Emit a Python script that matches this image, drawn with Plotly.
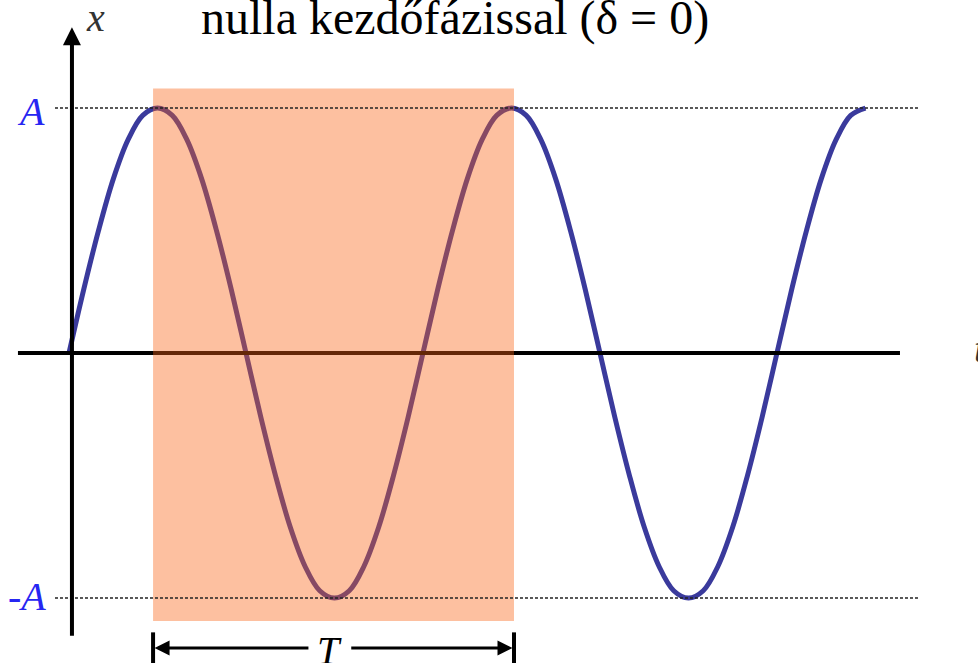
import plotly.graph_objects as go

# time in 24ths of a period, displacement in units of A
t_pts = list(range(0, 55))
x_pts = [0, 0.26, 0.5, 0.71, 0.87, 0.97, 1, 0.97, 0.87, 0.71, 0.5, 0.26,
         0, -0.26, -0.5, -0.71, -0.87, -0.97, -1, -0.97, -0.87, -0.71, -0.5, -0.26,
         0, 0.26, 0.5, 0.71, 0.87, 0.97, 1, 0.97, 0.87, 0.71, 0.5, 0.26,
         0, -0.26, -0.5, -0.71, -0.87, -0.97, -1, -0.97, -0.87, -0.71, -0.5, -0.26,
         0, 0.26, 0.5, 0.71, 0.87, 0.97, 1]

period_start = 5.7
period_end = 30.17
amp_labels = ["A", "-A"]
amp_values = [1, -1]
title_text = "nulla kezdőfázissal (δ = 0)"

SERIF = "Liberation Serif"
BLUE_CURVE = "#3a3a9c"
BLUE_TEXT = "#2626f2"

fig = go.Figure()
fig.add_trace(go.Scatter(x=t_pts, y=x_pts, mode="lines",
                         line=dict(color=BLUE_CURVE, width=5, shape="spline", smoothing=1),
                         hoverinfo="skip", showlegend=False))

shapes = []
# horizontal t axis (under the highlighted period)
shapes.append(dict(type="line", xref="x", yref="y", x0=-3.46, x1=56.34, y0=0, y1=0,
                   line=dict(color="black", width=4), layer="above"))
# highlighted period
shapes.append(dict(type="rect", xref="x", yref="y", x0=period_start, x1=period_end,
                   y0=-1.094, y1=1.08, fillcolor="rgba(250,98,18,0.4)",
                   line=dict(width=0), layer="above"))
# dashed amplitude lines
for v in amp_values:
    shapes.append(dict(type="line", xref="x", yref="y", x0=-0.95, x1=57.7, y0=v, y1=v,
                       line=dict(color="#222", width=1.5, dash="3px,2px"), layer="above"))
# end bars of T
for xe in [period_start, period_end]:
    shapes.append(dict(type="line", xref="x", yref="y", x0=xe, x1=xe, y0=-1.14, y1=-1.265,
                       line=dict(color="black", width=4), layer="above"))

annotations = []
# vertical x axis with arrow
annotations.append(dict(x=0.2, y=1.33, ax=0.2, ay=-1.16, xref="x", yref="y", axref="x", ayref="y",
                        text="", showarrow=True, arrowhead=2, arrowsize=0.9, arrowwidth=4,
                        arrowcolor="black"))
# T arrows
mid = (period_start + period_end) / 2
annotations.append(dict(x=period_start + 0.1, y=-1.204, ax=mid - 1.6, ay=-1.204,
                        xref="x", yref="y", axref="x", ayref="y", text="", showarrow=True,
                        arrowhead=2, arrowsize=1, arrowwidth=3, arrowcolor="black"))
annotations.append(dict(x=period_end - 0.1, y=-1.204, ax=mid + 1.1, ay=-1.204,
                        xref="x", yref="y", axref="x", ayref="y", text="", showarrow=True,
                        arrowhead=2, arrowsize=1, arrowwidth=3, arrowcolor="black"))
annotations.append(dict(x=mid - 0.25, y=-1.214, xref="x", yref="y", text="<i>T</i>", showarrow=False,
                        font=dict(family=SERIF, size=40, color="black")))
# amplitude labels
annotations.append(dict(x=-2.58, y=amp_values[0] - 0.015, xref="x", yref="y",
                        text="<i>" + amp_labels[0] + "</i>",
                        showarrow=False, font=dict(family=SERIF, size=40, color=BLUE_TEXT)))
annotations.append(dict(x=-2.85, y=amp_values[1] + 0.005, xref="x", yref="y",
                        text="<i>" + amp_labels[1] + "</i>",
                        showarrow=False, font=dict(family=SERIF, size=40, color=BLUE_TEXT)))
# axis labels
annotations.append(dict(x=1.83, y=1.371, xref="x", yref="y", text="<i>x</i>", showarrow=False,
                        font=dict(family=SERIF, size=40, color="#333")))
annotations.append(dict(x=61.2, y=0.02, xref="x", yref="y", text="<i>t</i>", showarrow=False,
                        xanchor="left", font=dict(family=SERIF, size=40, color="#333")))
# title
annotations.append(dict(x=26.17, y=1.367, xref="x", yref="y", text=title_text, showarrow=False,
                        font=dict(family=SERIF, size=48, color="black")))

fig.update_layout(
    width=978, height=663,
    margin=dict(l=0, r=0, t=0, b=0),
    paper_bgcolor="white", plot_bgcolor="white",
    xaxis=dict(range=[-4.678, 61.63], visible=False, fixedrange=True),
    yaxis=dict(range=[-1.265, 1.441], visible=False, fixedrange=True),
    shapes=shapes, annotations=annotations, showlegend=False,
)

fig.write_html("out.html", config={"displayModeBar": False},
               post_script="document.body.style.margin='0';document.body.style.overflow='hidden';")
